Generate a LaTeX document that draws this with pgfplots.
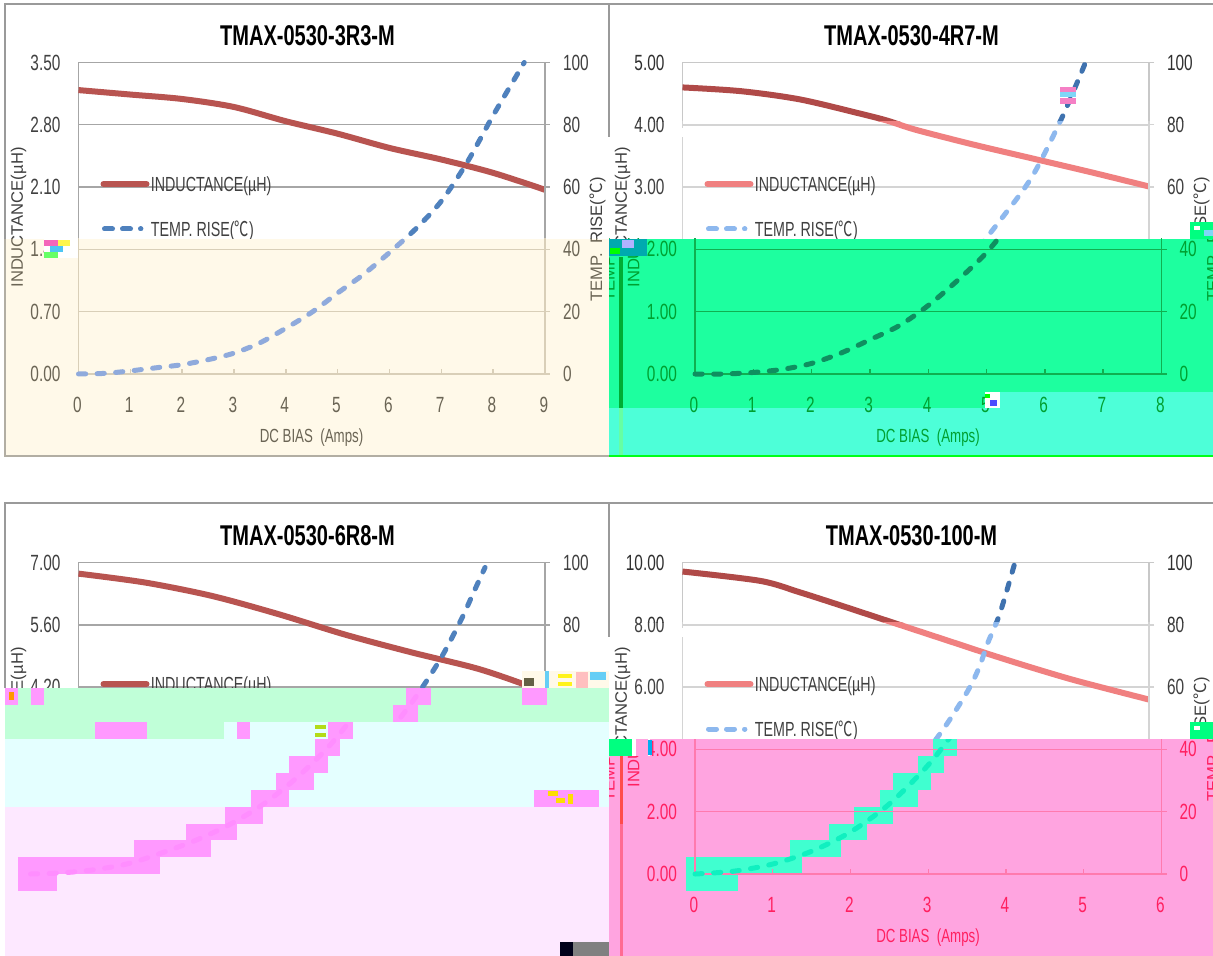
\documentclass[border=0pt]{standalone}
\usepackage{fontspec}
\usepackage{pgfplots}
\usepackage{pgfplotstable}
\pgfplotsset{compat=1.18}
\setmainfont[FakeStretch=0.7]{Liberation Sans}
\newfontfamily\plainf{Liberation Sans}
\newfontfamily\cjk[FakeStretch=0.7]{Noto Sans CJK SC}
\newfontfamily\cjkr{Noto Sans CJK SC}

% inductance (uH) and temperature rise (C)
\pgfplotstableread{
x y
0 3.19
1 3.14
2 3.09
3 3.00
4 2.84
5 2.70
6 2.54
7 2.41
8 2.26
9 2.07
}\Lone
\pgfplotstableread{
x y
0 0
0.5 0.2
1 1
1.5 2
2 3
2.5 4.6
3 6.7
3.5 10
4 14.7
4.5 19.8
5 26
5.5 32
6 39
6.5 46.5
7 55.5
7.5 68
8 83
8.6 100
}\Tone
\pgfplotstableread{
x y
0 4.60
1 4.54
2 4.41
3 4.19
3.5 4.07
4 3.92
5 3.68
6 3.46
7 3.24
8 3.01
}\Ltwo
\pgfplotstableread{
x y
0 0
0.5 0
1 0.5
1.5 1.5
2 3.4
2.5 6.7
3 11
3.5 15.5
4 22
4.5 30
5 39
5.5 50.6
6 63.5
6.5 82
6.9 99.5
}\Ttwo
\pgfplotstableread{
x y
0 6.75
1 6.55
2 6.25
3 5.84
4 5.38
5 4.98
6 4.61
6.8 4.20
7 4.05
}\Lthree
\pgfplotstableread{
x y
0 0
0.5 0.4
1 1.5
1.5 3.5
2 7
2.5 11
3 16
3.5 22.5
4 31
4.5 41.5
5 55
5.43 69
5.75 82
5.92 90
6.1 98.4
}\Tthree
\pgfplotstableread{
x y
0 9.71
1 9.41
1.5 9.05
2 8.65
2.5 8.24
3 7.83
3.5 7.42
4 7.01
4.5 6.62
5 6.25
5.5 5.92
6 5.60
}\Lfour
\pgfplotstableread{
x y
0 0
0.5 0.9
1 3.2
1.5 7.3
2 13.5
2.5 22.5
3 35
3.36 46.7
3.66 58.4
3.81 66
3.93 74.4
4.08 83.5
4.27 99.5
}\Tfour

\definecolor{cream}{HTML}{FFF9E9}
\definecolor{greenA}{HTML}{1DFF9F}
\definecolor{cyanA}{HTML}{4DFFD8}
\definecolor{mint}{HTML}{C0FFD8}
\definecolor{lcyan}{HTML}{E4FFFF}
\definecolor{lpink}{HTML}{FDE8FF}
\definecolor{pinkB}{HTML}{FF99FF}
\definecolor{pinkD}{HTML}{FFA4E0}
\definecolor{teal}{HTML}{40FFD0}
\definecolor{frame}{HTML}{9A9A9A}

\newcommand\setcols[4]{%
  \definecolor{ctext}{HTML}{#1}\definecolor{cgrid}{HTML}{#2}%
  \definecolor{cind}{HTML}{#3}\definecolor{ctmp}{HTML}{#4}}
% which texts a clipped piece of a panel draws: title, legend, x labels
\newcommand\parts[3]{\def\showT{#1}\def\showL{#2}\def\showX{#3}%
  \ifnum#3=0 \pgfplotsset{xlabs/.style={xticklabels={}}}\else\pgfplotsset{xlabs/.style={}}\fi}

\tikzset{dashline/.style={ctmp,line width=2.5pt,line cap=round,dash pattern=on 3.6pt off 5.7pt}}
\pgfplotsset{
  base/.style={
    scale only axis, width=233.25pt, height=155.75pt, anchor=south west,
    clip=false, xmin=0,
    axis line style={cgrid,line width=0.7pt},
    tick style={cgrid,line width=0.7pt},
    /pgf/number format/assume math mode=true,
    tick label style={text=ctext,font=\fontsize{11}{12}\selectfont},
  },
}

% x0, ytop, title, xmax, xticks, ymax, yticks, inductance table, temperature table
\newcommand\drawpanel[9]{%
  \begin{axis}[base,at={({(#1)*0.5pt},{-(#2+311.5)*0.5pt})},xmax=#4,xtick={#5},xlabs,ymin=0,ymax=#6,ytick={#7},
    xtick pos=bottom,ytick pos=left,tick align=inside,major tick length=2.5pt,
    ytick style={draw=none},
    ymajorgrids,major grid style={cgrid,line width=0.7pt},
    xticklabel style={yshift=-8pt,xshift=-0.6pt},
    yticklabel style={xshift=-5.5pt,/pgf/number format/fixed,/pgf/number format/zerofill,/pgf/number format/precision=2}]
    \addplot[cind,line width=3pt,smooth] table[x=x,y=y] {#8};
  \end{axis}
  \begin{axis}[base,at={({(#1)*0.5pt},{-(#2+311.5)*0.5pt})},xmax=#4,ymin=0,ymax=100,ytick={0,20,...,100},
    axis y line*=right,axis x line=none,tick align=outside,major tick length=2.5pt,
    yticklabel style={xshift=3pt}]
    \addplot[dashline,smooth] table[x=x,y=y] {#9};
  \end{axis}
  \ifnum\showT=1
  \node[font=\fontsize{14.3}{16}\selectfont\bfseries] at (#1+229,#2-27) {#3};
  \fi
  \ifnum\showL=1
  \draw[cind,line width=3pt,line cap=round] (#1+25,#2+121.5) -- (#1+68,#2+121.5);
  \node[anchor=west,inner sep=0pt,text=ctext,font=\fontsize{10.2}{12}\selectfont] at (#1+72,#2+123.5) {INDUCTANCE(µH)};
  \draw[dashline,dash pattern=on 4pt off 5pt on 4pt off 5pt on 0.2pt off 9pt] (#1+26,#2+166.5) -- (#1+68,#2+166.5);
  \node[anchor=west,inner sep=0pt,text=ctext,font=\fontsize{10.2}{12}\selectfont] at (#1+72,#2+168.5) {TEMP. RISE({\cjk ℃})};
  \fi
  \ifnum\showX=1
  \node[text=ctext,font=\fontsize{9.5}{11}\selectfont] at (#1+233,#2+375) {DC BIAS\ \ (Amps)};
  \fi
  \node[rotate=90,text=ctext,font=\fontsize{8.3}{10}\selectfont\plainf] at (#1-60,#2+155) {INDUCTANCE(µH)};
  \node[rotate=90,text=ctext,font=\fontsize{8.3}{10}\selectfont\plainf] at (#1+519,#2+177) {TEMP.\ \ RISE({\cjkr ℃})};
}
% only the temperature curve, for the blocks that hide the rest of a panel
\newcommand\tempcurve[5]{%
  \begin{axis}[base,hide axis,at={({(#1)*0.5pt},{-(#2+311.5)*0.5pt})},xmax=#3,ymin=0,ymax=100]
    \addplot[#5,line width=2.5pt,line cap=round,dash pattern=on 3.6pt off 5.7pt,smooth] table[x=x,y=y] {#4};
  \end{axis}}
\newcommand\panelA[1]{\drawpanel{78.5+#1}{62.5}{TMAX-0530-3R3-M}{9}{0,...,9}{3.5}{0,0.7,1.4,2.1,2.8,3.5}{\Lone}{\Tone}}
\newcommand\panelB[1]{\drawpanel{682.5+#1}{62.5}{TMAX-0530-4R7-M}{8}{0,...,8}{5}{0,...,5}{\Ltwo}{\Ttwo}}
\newcommand\panelC[1]{\drawpanel{78.5+#1}{562.5}{TMAX-0530-6R8-M}{7}{0,...,7}{7}{0,1.4,2.8,4.2,5.6,7}{\Lthree}{\Tthree}}
\newcommand\panelD[1]{\drawpanel{682.5+#1}{562.5}{TMAX-0530-100-M}{6}{0,...,6}{10}{0,2,...,10}{\Lfour}{\Tfour}}
\newcommand\blk[5]{\fill[#1] (#2,#3) rectangle (#4,#5);}

\begin{document}
\begin{tikzpicture}[x=0.5pt,y=-0.5pt]
\useasboundingbox (0,0) rectangle (1213,956);
\clip (0,0) rectangle (1213,956);
\fill[white] (0,0) rectangle (1213,956);

% top left, white above and cream below
\blk{cream}{5}{239}{609}{456}
\begin{scope}\clip (5,5) rectangle (609,239);
  \parts{1}{1}{0}\setcols{404040}{A6A6A6}{B85450}{4F81BD}\panelA{0}\end{scope}
\begin{scope}\clip (5,239) rectangle (609,456);
  \parts{0}{0}{1}\setcols{6B6555}{D9CFB8}{B85450}{8FAADC}\panelA{0}\end{scope}

% top right, shifted and green below
\begin{scope}\clip (610,5) rectangle (1213,122);
  \parts{1}{0}{0}\setcols{303030}{C8C8C8}{B04A48}{3F72AF}\panelB{0}\end{scope}
\begin{scope}\clip (610,122) rectangle (1213,239);
  \parts{0}{1}{0}\setcols{404040}{D4D4D4}{F08080}{8DB8EE}\panelB{0}\end{scope}
\blk{greenA}{609}{239}{1213}{408}
\blk{greenA}{1000}{239}{1213}{392}
\blk{cyanA}{609}{408}{1000}{456}
\blk{cyanA}{1000}{392}{1213}{456}
\begin{scope}\clip (609,239) rectangle (1213,456);
  \parts{0}{0}{1}\setcols{00A030}{10B050}{10906A}{0F8F60}\panelB{12.5}
  \node[rotate=90,text=ctext,font=\fontsize{8.3}{10}\selectfont\plainf] at (610,239.5) {TEMP.\ \ RISE({\cjkr ℃})};
\end{scope}
\blk{green!60!cyan!60!white}{619}{408}{622.5}{456}
\blk{green!60!black!80!cyan}{619}{257}{622.5}{408}

% bottom left
\begin{scope}\clip (5,503) rectangle (609,688);
  \parts{1}{1}{0}\setcols{404040}{A6A6A6}{B85450}{4F81BD}\panelC{0}\end{scope}
\blk{mint}{5}{688}{609}{739}
\blk{lcyan}{224}{722}{609}{807}
\blk{lcyan}{5}{739}{609}{807}
\blk{lpink}{5}{807}{609}{956}
\blk{pinkB}{406}{688}{431}{705}\blk{pinkB}{522}{688}{547}{705}\blk{pinkB}{31}{688}{44}{705}
\blk{pinkB}{5}{688}{17.5}{705}\blk{orange!80!yellow}{9}{692}{14}{700}
\blk{pinkB}{393}{705}{418}{722}
\blk{pinkB}{95}{722}{147}{739}\blk{pinkB}{237}{722}{250}{739}\blk{pinkB}{328}{722}{353}{739}
\blk{pinkB}{315}{739}{340}{756}
\blk{pinkB}{289}{756}{328}{773}
\blk{pinkB}{276}{773}{314}{790}
\blk{pinkB}{250.5}{790}{289}{807}\blk{pinkB}{534}{790}{599}{807}
\blk{yellow!80!orange}{548}{791}{558}{796}\blk{yellow!80!orange}{556}{798}{565}{803}\blk{yellow!80!orange}{568}{794}{573}{804}
\blk{pinkB}{224.5}{807}{263}{824}
\blk{pinkB}{185.6}{824}{237}{840}
\blk{pinkB}{134}{840}{211}{857}
\blk{pinkB}{17.5}{857}{159.5}{874}
\blk{pinkB}{17.5}{874}{57}{891}
\blk{yellow!70!green}{315}{725}{326}{729}\blk{yellow!70!green}{315}{733}{326}{737}
\begin{scope}\clip (5,688) rectangle (609,722);
  \tempcurve{78.5}{562.5}{7}{\Tthree}{pinkB!93!magenta}\end{scope}
\begin{scope}\clip (5,722) rectangle (609,956);
  \tempcurve{30.5}{562.5}{7}{\Tthree}{pinkB!93!magenta}\end{scope}
\blk{cream}{522}{671}{609}{688}
\blk{cyan!60!white}{545}{671}{549}{688}\blk{yellow!90!white}{558}{674}{572}{678}\blk{yellow!90!white}{558}{682}{572}{686}\blk{cyan!60!white}{590}{672}{606}{680}\blk{pink}{576}{672}{588}{688}
\blk{black!70!yellow}{524}{678}{534}{686}
\blk{black!90!blue}{560}{942}{573}{956}
\blk{gray}{573}{942}{609}{956}

% bottom right
\begin{scope}\clip (610,503) rectangle (1213,622);
  \parts{1}{0}{0}\setcols{303030}{C8C8C8}{B04A48}{3F72AF}\panelD{0}\end{scope}
\begin{scope}\clip (610,622) rectangle (1213,739);
  \parts{0}{1}{0}\setcols{404040}{D4D4D4}{F08080}{8DB8EE}\panelD{0}\end{scope}
\blk{pinkD}{609}{739}{1213}{956}
\blk{teal}{932.5}{739}{957}{756}
\blk{teal}{918}{756}{944}{773}
\blk{teal}{893}{773}{931}{790}
\blk{teal}{880}{790}{918}{807}
\blk{teal}{854}{807}{893}{824}
\blk{teal}{829}{824}{867}{840}
\blk{teal}{790}{840}{841}{857}
\blk{teal}{686}{857}{802}{874}
\blk{teal}{686}{874}{738}{891}
\begin{scope}\clip (609,739) rectangle (1213,956);
  \parts{0}{0}{1}\setcols{FF2060}{FF7AAE}{10F0C0}{10F0C0}\panelD{12.5}
  \node[rotate=90,text=ctext,font=\fontsize{8.3}{10}\selectfont\plainf] at (610,739.5) {TEMP.\ \ RISE({\cjkr ℃})};
\end{scope}
\blk{red!60!pink}{619.5}{739}{622.5}{824}
\blk{red!35!pinkD}{619.5}{824}{622.5}{956}

% frames
\draw[frame,line width=1pt] (5,456) -- (5,4) -- (1213,4);
\draw[frame,line width=1pt] (609,4) -- (609,137);
\draw[frame,line width=1pt] (5,688) -- (5,503) -- (1213,503);
\draw[frame,line width=1pt] (609,503) -- (609,637);
\draw[cream!70!black,line width=1pt] (5,239) -- (5,456) -- (609,456);
\draw[green!90!cyan,line width=1pt] (609,456) -- (1213,456);

% scattered damage
\blk{white}{44}{239}{78}{258}
\blk{magenta!60!white}{44}{240}{58}{246}\blk{cyan!70!white}{50}{246}{63}{252}\blk{yellow!70!white}{58}{240}{70}{246}\blk{green!60!white}{44}{252}{58}{258}
\blk{magenta!50!white}{1060}{87}{1076}{92}\blk{cyan!50!white}{1060}{92}{1076}{97}\blk{magenta!50!white}{1060}{98}{1076}{104}
\blk{cyan!60!green}{609}{239}{647}{256}\blk{blue!30!white}{622}{240}{634}{248}\blk{green}{610}{248}{620}{254}
\blk{green!50!cyan}{1190}{222}{1213}{239}\blk{white}{1194}{226}{1200}{230}\blk{cyan!50!white}{1204}{230}{1213}{236}
\blk{white}{985}{392}{1000}{408}\blk{blue!70!white}{990}{400}{997}{406}\blk{green}{985}{394}{990}{398}
\blk{green!50!cyan}{609}{739}{632}{756}\blk{white}{632}{739}{650}{756}\blk{pinkD}{636}{739}{648}{756}\blk{cyan}{648}{740}{652}{755}
\blk{green!50!cyan}{1190}{722}{1213}{739}\blk{white}{1194}{726}{1200}{730}
\blk{white}{680}{128}{686}{137}\blk{white}{680}{628}{686}{637}
\end{tikzpicture}
\end{document}
